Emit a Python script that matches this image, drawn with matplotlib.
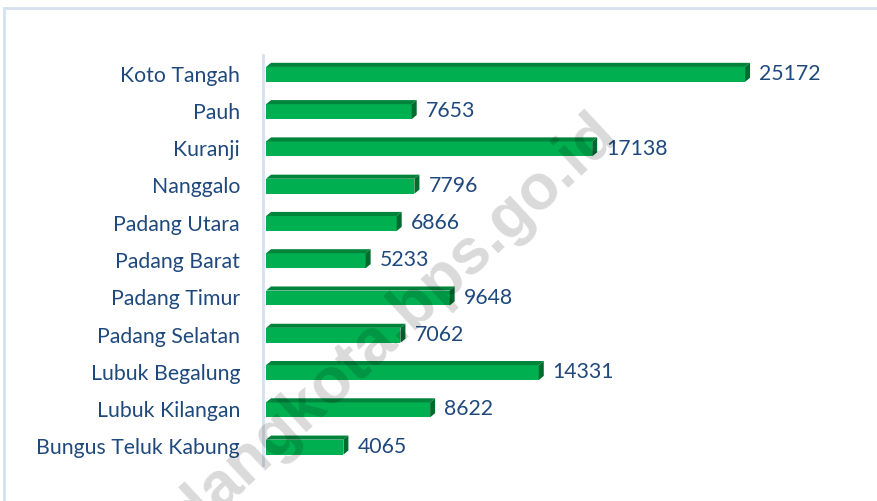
import matplotlib
matplotlib.use("Agg")
import matplotlib.pyplot as plt
from matplotlib.patches import Polygon, Rectangle

# kecamatan, top to bottom as in the chart
kecamatan = ["Koto Tangah", "Pauh", "Kuranji", "Nanggalo", "Padang Utara",
             "Padang Barat", "Padang Timur", "Padang Selatan", "Lubuk Begalung",
             "Lubuk Kilangan", "Bungus Teluk Kabung"]
nilai = [25172, 7653, 17138, 7796, 6866, 5233, 9648, 7062, 14331, 8622, 4065]

front = "#00B050"
top_c = "#00843C"
side_c = "#006B2E"
txt_c = "#1F497D"

plt.rcParams["font.family"] = ["Lato", "DejaVu Sans"]

fig = plt.figure(figsize=(8.77, 5.01), dpi=100)

# outer frame (light blue)
fig.patches.append(Rectangle((4 / 877, -0.1), 1.2, (501 - 8) / 501 + 0.1,
                             transform=fig.transFigure, fill=False,
                             edgecolor="#D5E1EF", linewidth=2))

ax = fig.add_axes([263 / 877, 36 / 501, 614 / 877, 410 / 501])
ax.patch.set_alpha(0)

px = 0.01903  # pixels per unit on x
xmin = -160
ax.set_xlim(xmin, xmin + 614 / px)
n = len(kecamatan)
ax.set_ylim(-0.5, n - 0.5)

h = 0.40      # front face height
dx = 5 / px   # depth in x (data units)
dy = 0.11     # depth in y (data units)

for i, (nama, v) in enumerate(zip(kecamatan, nilai)):
    y = n - 1 - i
    y0 = y - h / 2 - 0.02
    ax.add_patch(Rectangle((0, y0), v, h, facecolor=front, edgecolor="none", zorder=3))
    ax.add_patch(Polygon([(0, y0 + h), (dx, y0 + h + dy), (v + dx, y0 + h + dy), (v, y0 + h)],
                         closed=True, facecolor=top_c, edgecolor="none", zorder=3))
    ax.add_patch(Polygon([(v, y0), (v, y0 + h), (v + dx, y0 + h + dy), (v + dx, y0 + dy)],
                         closed=True, facecolor=side_c, edgecolor="none", zorder=3))
    ax.text(v + dx + 9 / px, y0 + h / 2 + 0.01, str(v), ha="left", va="center",
            fontsize=15.3, color=txt_c)

ax.set_yticks([n - 1 - i for i in range(n)])
ax.set_yticklabels(kecamatan)
ax.tick_params(axis="y", length=0, pad=16.5, labelsize=15.3, labelcolor=txt_c)
ax.set_xticks([])
for s in ["top", "right", "bottom"]:
    ax.spines[s].set_visible(False)
ax.spines["left"].set_color("#D5E1EF")
ax.spines["left"].set_linewidth(2)
ax.spines["left"].set_position(("data", xmin))

# watermark, semi transparent over everything
fig.text(620 / 877, 1 - 136 / 501, "padangkota.bps.go.id", rotation=43,
         rotation_mode="anchor", ha="right", va="baseline", fontsize=46,
         fontweight="bold", family="Liberation Sans", color="black",
         alpha=0.15, zorder=10)

fig.savefig("out.png", dpi=100)
